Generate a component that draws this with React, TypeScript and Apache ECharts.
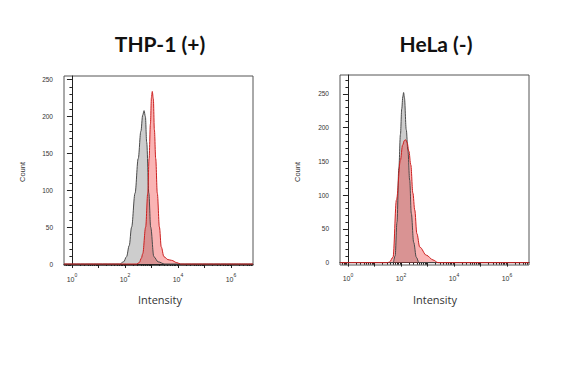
import React, { useEffect, useRef } from "react";
import * as echarts from "echarts";

// Log10 intensity positions and counts
const thpGrayX = [-0.3, 1.8, 1.95, 2.06, 2.16, 2.25, 2.38, 2.5, 2.6, 2.67, 2.72, 2.77, 2.82, 2.9, 2.97, 3.09, 3.25, 3.5, 6.83];
const thpGrayY = [0, 0, 3, 10, 25, 50, 96, 143, 180, 202, 208, 200, 165, 96, 50, 10, 3, 0, 0];
const thpRedX = [-0.3, 2.45, 2.54, 2.62, 2.67, 2.78, 2.86, 2.91, 2.96, 3.0, 3.03, 3.07, 3.11, 3.16, 3.22, 3.3, 3.37, 3.47, 3.62, 3.76, 3.95, 4.1, 6.83];
const thpRedY = [0, 0, 2, 8, 14, 50, 96, 143, 190, 226, 234, 224, 182, 143, 96, 50, 23, 10, 6, 5, 2, 0, 0];
const helaGrayX = [-0.3, 1.7, 1.78, 1.85, 1.92, 1.98, 2.03, 2.07, 2.1, 2.13, 2.2, 2.26, 2.33, 2.39, 2.48, 2.58, 2.68, 6.83];
const helaGrayY = [0, 0, 10, 60, 140, 190, 228, 246, 252, 244, 197, 167, 122, 73, 30, 8, 0, 0];
const helaRedX = [-0.3, 1.5, 1.57, 1.7, 1.83, 1.98, 2.06, 2.13, 2.18, 2.23, 2.3, 2.37, 2.45, 2.52, 2.6, 2.71, 2.96, 3.21, 3.4, 6.83];
const helaRedY = [0, 0, 1, 8, 93, 152, 174, 181, 182, 178, 165, 145, 103, 78, 43, 23, 11, 4, 0, 0];

const titles = ["THP-1 (+)", "HeLa (-)"];
const xMajorTicks = [0, 1, 2, 3, 4, 5, 6];
const xLabelTicks = [0, 2, 4, 6];
const yMajorTicks = [0, 50, 100, 150, 200, 250];
const yMinorLeft = [10, 20, 30, 40, 60, 70, 80, 90, 110, 120, 130, 140, 160, 170, 180, 190, 210, 220, 230, 240];
const yMinorRight = [...yMinorLeft, 260, 270];

const X_MIN = -0.3;
const X_MAX = 6.83;

function pairs(xs: number[], ys: number[]) {
  return xs.map((x, i) => [x, ys[i]]);
}

const xMinorTicks: number[] = [];
for (let n = -1; n <= 6; n++) {
  for (let k = 2; k <= 9; k++) {
    const v = n + Math.log10(k);
    if (v > X_MIN && v < X_MAX) xMinorTicks.push(v);
  }
}

export default function App() {
  const ref = useRef<HTMLDivElement>(null);
  useEffect(() => {
    if (!ref.current) return;
    const chart = echarts.init(ref.current, undefined, { renderer: "svg" });
    const axisColor = "#222";
    const grids = [
      { left: 64, top: 76, width: 189, height: 189.5, show: true, borderColor: "#555", borderWidth: 1 },
      { left: 340, top: 75, width: 189, height: 190, show: true, borderColor: "#555", borderWidth: 1 },
    ];
    const yRanges = [
      [-2, 255],
      [-3.5, 278],
    ];
    const xAxes: any[] = [];
    const yAxes: any[] = [];
    [0, 1].forEach((g) => {
      xAxes.push({
        type: "value",
        gridIndex: g,
        position: "bottom",
        min: X_MIN,
        max: X_MAX,
        splitLine: { show: false },
        axisLine: { show: true, lineStyle: { color: axisColor, width: 1 } },
        axisTick: { show: true, customValues: xMajorTicks, length: 4, lineStyle: { color: axisColor } },
        axisLabel: {
          customValues: xLabelTicks,
          margin: 7,
          formatter: (v: number) => `{b|10}{s|${Math.round(v)}}`,
          rich: {
            b: { fontSize: 7, fontFamily: "Liberation Sans", color: "#333", lineHeight: 10, verticalAlign: "bottom" },
            s: { fontSize: 5, fontFamily: "Liberation Sans", color: "#333", lineHeight: 10, verticalAlign: "top", padding: [0, 0, 4, 0] },
          },
        },
      });
      xAxes.push({
        type: "value",
        gridIndex: g,
        position: "bottom",
        offset: 0,
        min: X_MIN,
        max: X_MAX,
        splitLine: { show: false },
        axisLine: { show: false },
        axisTick: { show: true, customValues: xMinorTicks, length: 2, lineStyle: { color: axisColor } },
        axisLabel: { show: false },
      });
      yAxes.push({
        type: "value",
        gridIndex: g,
        position: "left",
        min: yRanges[g][0],
        max: yRanges[g][1],
        splitLine: { show: false },
        axisLine: { show: true, lineStyle: { color: axisColor, width: 1 } },
        axisTick: { show: true, customValues: yMajorTicks, length: 5, lineStyle: { color: axisColor } },
        axisLabel: {
          customValues: yMajorTicks,
          margin: 11,
          fontSize: 6.5,
          fontFamily: "Liberation Sans",
          color: "#333",
        },
      });
      yAxes.push({
        type: "value",
        gridIndex: g,
        position: "left",
        offset: 0,
        min: yRanges[g][0],
        max: yRanges[g][1],
        splitLine: { show: false },
        axisLine: { show: false },
        axisTick: { show: true, customValues: g === 0 ? yMinorLeft : yMinorRight, length: 2.5, lineStyle: { color: axisColor } },
        axisLabel: { show: false },
      });
    });

    const mk = (data: number[][], xi: number, yi: number, red: boolean) => ({
      type: "line",
      xAxisIndex: xi,
      yAxisIndex: yi,
      data,
      smooth: 0.35,
      smoothMonotone: "x",
      showSymbol: false,
      symbol: "none",
      lineStyle: { color: red ? "#cc1f1f" : "#4a4a4a", width: 1 },
      areaStyle: { color: red ? "rgba(240,40,40,0.5)" : "rgba(125,125,125,0.55)", origin: 0 },
      silent: true,
    });

    const textStyleTitle = { fontFamily: "Lato", fontWeight: "bold", fontSize: 21, fill: "#111" };
    chart.setOption({
      animation: false,
      grid: grids,
      xAxis: xAxes,
      yAxis: yAxes,
      series: [
        mk(pairs(thpGrayX, thpGrayY), 0, 0, false),
        mk(pairs(thpRedX, thpRedY), 0, 0, true),
        mk(pairs(helaGrayX, helaGrayY), 2, 2, false),
        mk(pairs(helaRedX, helaRedY), 2, 2, true),
      ],
      graphic: [
        { type: "text", x: 160, y: 43, style: { ...textStyleTitle, text: titles[0], align: "center", verticalAlign: "middle" } },
        { type: "text", x: 436, y: 43, style: { ...textStyleTitle, text: titles[1], align: "center", verticalAlign: "middle" } },
        { type: "text", x: 160, y: 299, style: { text: "Intensity", fontFamily: "Open Sans", fontSize: 11, fill: "#333", align: "center", verticalAlign: "middle" } },
        { type: "text", x: 435, y: 299, style: { text: "Intensity", fontFamily: "Open Sans", fontSize: 11, fill: "#333", align: "center", verticalAlign: "middle" } },
        { type: "text", x: 22, y: 172, rotation: Math.PI / 2, style: { text: "Count", fontFamily: "Liberation Sans", fontSize: 7.5, fill: "#333", align: "center", verticalAlign: "middle" } },
        { type: "text", x: 297, y: 172, rotation: Math.PI / 2, style: { text: "Count", fontFamily: "Liberation Sans", fontSize: 7.5, fill: "#333", align: "center", verticalAlign: "middle" } },
      ],
    });
    return () => chart.dispose();
  }, []);
  return (
    <div
      ref={ref}
      style={{ position: "fixed", left: 0, top: 0, width: 582, height: 378, background: "#fff" }}
    />
  );
}
